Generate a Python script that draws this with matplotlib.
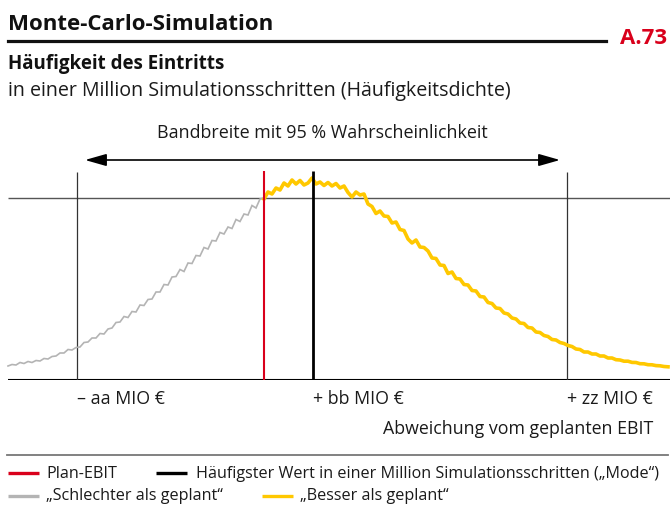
import matplotlib
matplotlib.use("Agg")
import matplotlib.pyplot as plt
from matplotlib.lines import Line2D

plt.rcParams['font.family'] = ['Open Sans', 'DejaVu Sans']

# ---------------- data ----------------
gray_x = [8, 12, 16, 20, 24, 28, 32, 36, 40, 44, 48, 52, 56, 60, 64, 68, 72, 76, 80, 84,
          88, 92, 96, 100, 104, 108, 112, 116, 120, 124, 128, 132, 136, 140, 144, 148, 152,
          156, 160, 164, 168, 172, 176, 180, 184, 188, 192, 196, 200, 204, 208, 212, 216,
          220, 224, 228, 232, 236, 240, 244, 248, 252, 256, 260, 264]
gray_y = [14, 15.5, 15, 17.5, 16.5, 18.5, 17.5, 19.5, 19, 21.5, 21, 23.5, 24, 27, 27, 30.5,
          30, 32.5, 33, 37.5, 38, 42, 42, 46.5, 46, 51, 52, 57.5, 58, 63.5, 62.5, 68.5, 68,
          75, 74.5, 80.5, 81, 88, 88, 95.5, 95, 103, 103.5, 110.5, 108.5, 117, 116.5, 124.5,
          124, 132.5, 131, 139.5, 139, 147.5, 146, 153, 151.5, 160.5, 158.5, 166, 165, 174.5,
          172, 181, 182]

yellow_x = [264, 268, 272, 276, 280, 284, 288, 292, 296, 300, 304, 308, 312, 316, 320, 324,
            328, 332, 336, 340, 344, 348, 352, 356, 360, 364, 368, 372, 376, 380, 384, 388,
            392, 396, 400, 404, 408, 412, 416, 420, 424, 428, 432, 436, 440, 444, 448, 452,
            456, 460, 464, 468, 472, 476, 480, 484, 488, 492, 496, 500, 504, 508, 512, 516,
            520, 524, 528, 532, 536, 540, 544, 548, 552, 556, 560, 564, 568, 572, 576, 580,
            584, 588, 592, 596, 600, 604, 608, 612, 616, 620, 624, 628, 632, 636, 640, 644,
            648, 652, 656, 660, 664, 668]
yellow_y = [181, 188, 186, 192, 190, 197, 194, 200, 196, 199.5, 195, 197, 202, 196, 198,
            194.5, 197.5, 194, 196.5, 192, 194, 187.5, 183, 188, 185, 186, 176, 173.5, 166.5,
            169, 164, 163.5, 157, 158, 150.5, 149.5, 141, 137, 140, 133, 132.5, 129, 122,
            121.5, 115, 114.5, 106.5, 108, 101.5, 101, 95.5, 95, 89.5, 89, 83.5, 83, 77.5,
            76.5, 72, 71.5, 67, 66, 62, 61, 57, 56.5, 52.5, 52, 48, 47.5, 44.5, 43.5, 40.5,
            40, 37.5, 36.5, 34.5, 33.5, 31, 30.5, 28, 28, 26, 26, 24, 24, 22, 22, 20.3, 20,
            18.8, 18.8, 17.6, 17.5, 16.3, 16.2, 15.3, 15.2, 14.4, 14.2, 13.5, 13.2]

band_low, band_high = 77, 567
plan_x = 264
mode_x = 313
ref_level = 182
tick_pos = [77, 313, 567]
tick_labels = ["– aa MIO €", "+ bb MIO €", "+ zz MIO €"]

RED = '#d9001b'
YELLOW = '#ffc800'
GRAY = '#b4b4b4'

# ---------------- figure ----------------
W, H = 670, 512
fig = plt.figure(figsize=(W / 100, H / 100), dpi=100)


def fx(x):
    return x / W


def fy(y):
    return 1 - y / H


ax = fig.add_axes([0, fy(380), 1, (380 - 120) / H])
ax.set_xlim(0, 670)
ax.set_ylim(0, 260)
for s in ax.spines.values():
    s.set_visible(False)
ax.set_yticks([])

ax.hlines(ref_level, 8, 670, color='#555555', lw=1.0, zorder=1)
ax.hlines(0, 8, 670, color='black', lw=1.5, zorder=1)
ax.vlines([band_low, band_high], 0, 208, color='#333333', lw=0.9, zorder=1)

ax.plot(gray_x, gray_y, color=GRAY, lw=1.2, zorder=2, solid_joinstyle='miter')
ax.plot(yellow_x, yellow_y, color=YELLOW, lw=2.6, zorder=2)

ax.vlines(plan_x, 0, 209, color=RED, lw=1.5, zorder=3)
ax.vlines(mode_x, 0, 209, color='black', lw=2.0, zorder=3)

ax.annotate('', xy=(85, 220), xytext=(560, 220),
            arrowprops=dict(arrowstyle='<|-|>,head_length=1.3,head_width=0.37',
                            mutation_scale=10, color='black', lw=1.2,
                            shrinkA=0, shrinkB=0))
ax.text(322, 247, "Bandbreite mit 95 % Wahrscheinlichkeit", ha='center', va='center',
        fontsize=12.9, color='#1a1a1a')

ax.set_xticks(tick_pos)
ax.set_xticklabels(tick_labels, ha='left', fontsize=12.8, color='#1a1a1a')
ax.tick_params(axis='x', length=0, pad=7.5)

fig.text(fx(653), fy(434), "Abweichung vom geplanten EBIT", ha='right', va='baseline',
         fontsize=12.8, color='#1a1a1a')

# header
fig.text(fx(8), fy(30), "Monte-Carlo-Simulation", ha='left', va='baseline',
         fontsize=16, fontweight='bold', color='#111111')
fig.add_artist(Line2D([fx(8), fx(606)], [fy(41), fy(41)], color='#111111', lw=2.3))
fig.text(fx(667), fy(44), "A.73", ha='right', va='baseline',
         fontsize=16, fontweight='bold', color=RED)
fig.text(fx(8), fy(69), "Häufigkeit des Eintritts", ha='left', va='baseline',
         fontsize=13.5, fontweight='bold', color='#111111')
fig.text(fx(8), fy(96), "in einer Million Simulationsschritten (Häufigkeitsdichte)",
         ha='left', va='baseline', fontsize=14.1, color='#1a1a1a')

# separator
fig.add_artist(Line2D([fx(7), fx(668)], [fy(455), fy(455)], color='#777777', lw=1.3))

# legend
legend_items = [
    (8, 46, 473, RED, "Plan-EBIT"),
    (156, 196, 473, 'black', "Häufigster Wert in einer Million Simulationsschritten („Mode“)"),
    (8, 46, 496, GRAY, "„Schlechter als geplant“"),
    (262, 300, 496, YELLOW, "„Besser als geplant“"),
]
for x0, xt, yc, col, lab in legend_items:
    fig.add_artist(Line2D([fx(x0), fx(x0 + 31)], [fy(yc), fy(yc)], color=col, lw=2.4,
                          solid_capstyle='butt'))
    fig.text(fx(xt), fy(yc + 4.5), lab, ha='left', va='baseline', fontsize=11.6,
             color='#1a1a1a')

fig.savefig('out.png', dpi=100)
